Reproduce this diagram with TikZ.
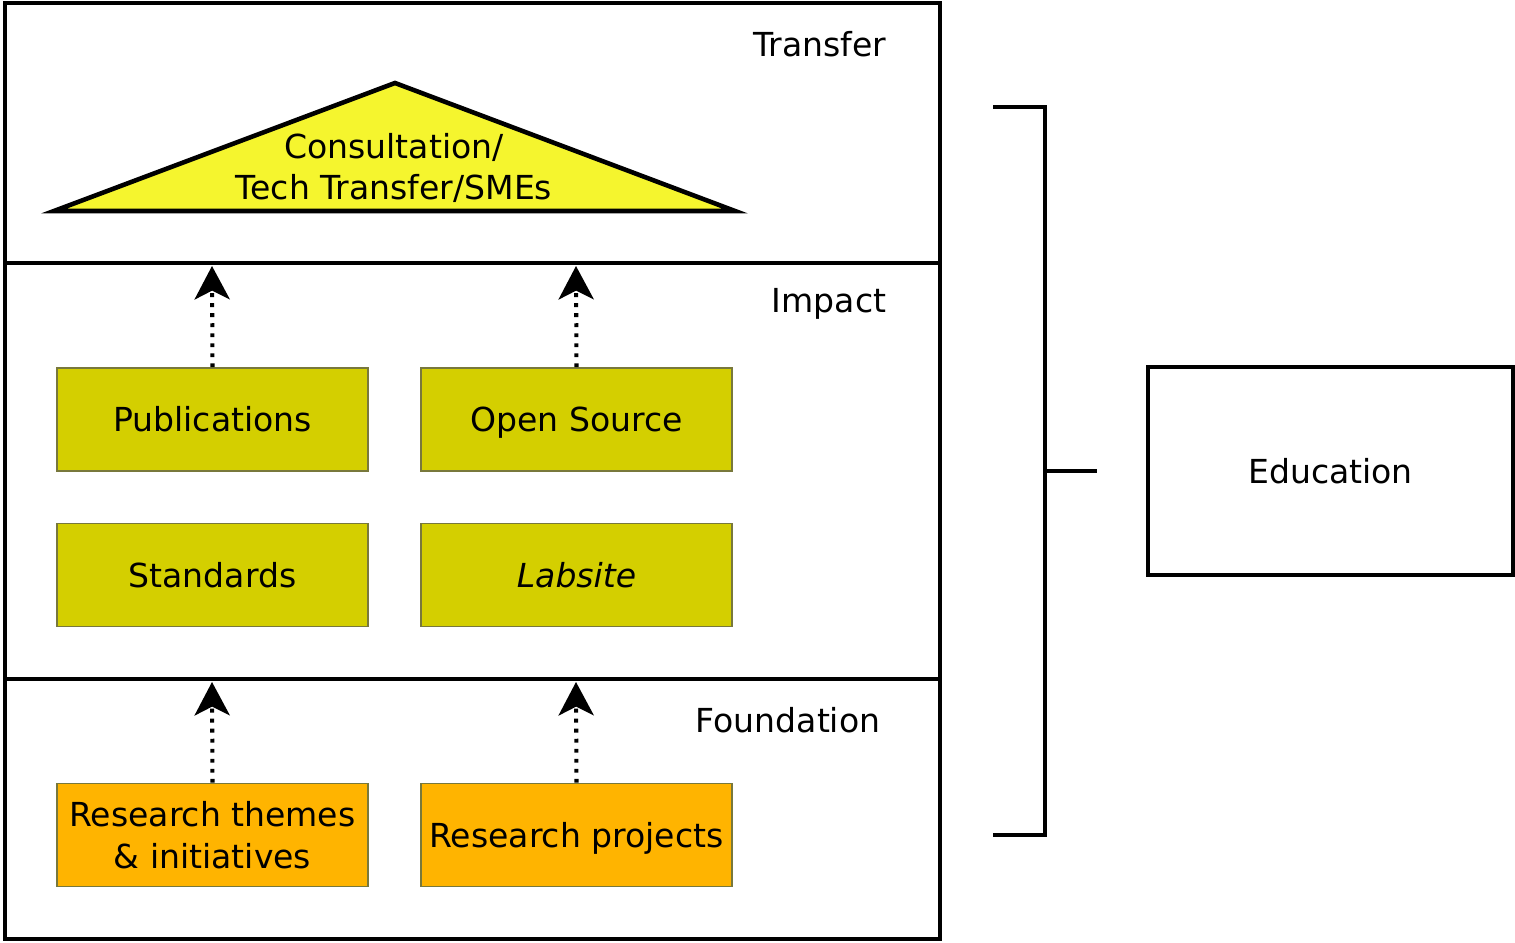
\documentclass[tikz,border=0pt]{standalone}
\usepackage{fontspec}
\setmainfont{DejaVu Sans}
\usetikzlibrary{arrows.meta}
\definecolor{olive}{RGB}{212,207,0}
\definecolor{orng}{RGB}{255,180,0}
\definecolor{tri}{RGB}{245,245,46}
\definecolor{bord}{RGB}{120,120,60}
\newlength{\pxu}
\setlength{\pxu}{0.01cm}
\tikzset{
  frame/.style={line width=1.3pt},
  card/.style={draw=bord, line width=0.45pt, minimum width=311\pxu, minimum height=103\pxu, inner sep=0pt, align=center, font=\fontsize{9.4}{11.8}\selectfont},
  oneline/.style={text height=8pt, text depth=1pt},
  lbl/.style={font=\fontsize{9.4}{11.8}\selectfont, inner sep=0pt},
  uparrow/.style={line width=1.15pt, dash pattern=on 1.1pt off 1.75pt, -{Stealth[length=9.5pt,width=10pt,inset=2.5pt]}},
}
\begin{document}
\begin{tikzpicture}[x=0.01cm,y=-0.01cm]
\useasboundingbox (0,0) rectangle (1515,943);
% main frame
\draw[frame] (5,3) rectangle (940,939);
\draw[frame] (5,263) -- (940,263);
\draw[frame] (5,679) -- (940,679);
% section labels
\node[lbl, anchor=east] (ltransfer) at (887,44) {Transfer};
\node[lbl, anchor=east] (limpact) at (887,304) {Impact};
\node[lbl, anchor=east] (lfound) at (881,720) {Foundation};
% triangle
\draw[frame, fill=tri, line join=miter] (54,211) -- (395,83) -- (735,211) -- cycle;
\node[lbl, align=center] (consult) at (394,168) {Consultation/\\Tech Transfer/SMEs};
% impact boxes
\node[card, oneline, fill=olive] (pub) at (212.5,419.5) {Publications};
\node[card, oneline, fill=olive] (os) at (576.5,419.5) {Open Source};
\node[card, oneline, fill=olive] (std) at (212.5,575) {Standards};
\node[card, oneline, fill=olive] (lab) at (576.5,575) {\itshape Labsite};
% foundation boxes
\node[card, fill=orng] (themes) at (212.5,835) {Research themes\\\& initiatives};
\node[card, oneline, fill=orng] (proj) at (576.5,835) {Research projects};
% arrow targets
\coordinate (t1) at (212,266);
\coordinate (t2) at (576,266);
\coordinate (t3) at (212,682);
\coordinate (t4) at (576,682);
\draw[uparrow] (pub.north) -- (t1);
\draw[uparrow] (os.north) -- (t2);
\draw[uparrow] (themes.north) -- (t3);
\draw[uparrow] (proj.north) -- (t4);
% bracket
\coordinate (b1) at (993,107);
\coordinate (b2) at (1045,107);
\coordinate (b3) at (1045,835);
\coordinate (b4) at (993,835);
\coordinate (bm) at (1045,471);
\coordinate (bt) at (1097,471);
\draw[frame] (b1) -- (b2) -- (b3) -- (b4);
\draw[frame] (bm) -- (bt);
% education
\node[frame, draw, minimum width=365\pxu, minimum height=208\pxu, lbl] (edu) at (1330.5,471) {Education};
\end{tikzpicture}
\end{document}
